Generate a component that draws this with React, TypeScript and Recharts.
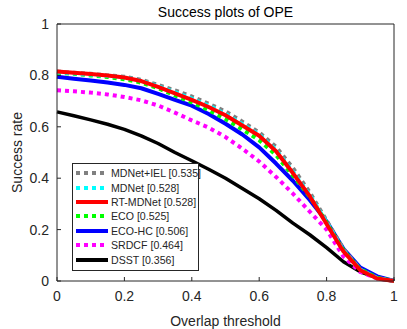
import React from 'react';
import { LineChart, Line, XAxis, YAxis } from 'recharts';

// overlap thresholds 0:0.05:1
const thresholds = [0, 0.05, 0.1, 0.15, 0.2, 0.25, 0.3, 0.35, 0.4, 0.45, 0.5, 0.55, 0.6, 0.65, 0.7, 0.75, 0.8, 0.85, 0.9, 0.95, 1];

const mdnetIel = [0.815, 0.81, 0.806, 0.8, 0.795, 0.783, 0.763, 0.742, 0.718, 0.69, 0.66, 0.62, 0.578, 0.522, 0.44, 0.345, 0.235, 0.125, 0.045, 0.012, 0];
const mdnet = [0.812, 0.808, 0.803, 0.798, 0.792, 0.78, 0.758, 0.735, 0.71, 0.682, 0.65, 0.61, 0.57, 0.51, 0.425, 0.335, 0.228, 0.118, 0.044, 0.011, 0];
const rtMdnet = [0.815, 0.81, 0.805, 0.8, 0.792, 0.778, 0.755, 0.73, 0.705, 0.677, 0.645, 0.605, 0.565, 0.505, 0.42, 0.33, 0.222, 0.115, 0.042, 0.01, 0];
const eco = [0.81, 0.806, 0.8, 0.794, 0.785, 0.772, 0.75, 0.722, 0.695, 0.665, 0.63, 0.59, 0.548, 0.49, 0.41, 0.328, 0.228, 0.12, 0.046, 0.013, 0];
const ecoHc = [0.795, 0.787, 0.78, 0.772, 0.763, 0.75, 0.728, 0.705, 0.682, 0.65, 0.612, 0.57, 0.52, 0.457, 0.39, 0.315, 0.232, 0.125, 0.052, 0.018, 0];
const srdcf = [0.742, 0.738, 0.733, 0.726, 0.716, 0.703, 0.683, 0.655, 0.625, 0.597, 0.56, 0.515, 0.465, 0.405, 0.34, 0.27, 0.2, 0.095, 0.035, 0.01, 0];
const dsst = [0.658, 0.643, 0.627, 0.61, 0.59, 0.565, 0.535, 0.5, 0.468, 0.435, 0.4, 0.36, 0.32, 0.275, 0.225, 0.18, 0.13, 0.075, 0.036, 0.012, 0];

const axisTicks = [0, 0.2, 0.4, 0.6, 0.8, 1];

// legend order (top to bottom)
const series = [
  { key: 'iel', name: 'MDNet+IEL [0.535]', color: '#808080', dotted: true, values: mdnetIel },
  { key: 'mdnet', name: 'MDNet [0.528]', color: '#00ffff', dotted: true, values: mdnet },
  { key: 'rt', name: 'RT-MDNet [0.528]', color: '#ff0000', dotted: false, values: rtMdnet },
  { key: 'eco', name: 'ECO [0.525]', color: '#00ff00', dotted: true, values: eco },
  { key: 'ecohc', name: 'ECO-HC [0.506]', color: '#0000ff', dotted: false, values: ecoHc },
  { key: 'srdcf', name: 'SRDCF [0.464]', color: '#ff00ff', dotted: true, values: srdcf },
  { key: 'dsst', name: 'DSST [0.356]', color: '#000000', dotted: false, values: dsst },
];

// draw order: last one on top
const drawOrder = ['dsst', 'srdcf', 'ecohc', 'eco', 'iel', 'mdnet', 'rt'];

const data = thresholds.map((t, i) => {
  const row: any = { x: t };
  series.forEach(s => { row[s.key] = s.values[i]; });
  return row;
});

const FONT = '"Liberation Sans", Arial, Helvetica, sans-serif';
const INK = '#262626';

function LegendBox() {
  return (
    <div
      style={{
        position: 'absolute',
        left: 72,
        top: 163,
        width: 127,
        border: '1px solid #262626',
        background: '#fff',
        padding: '2px 0 3px 0',
        textAlign: 'left',
        boxSizing: 'border-box',
      }}
    >
      {series.map(s => (
        <div key={s.key} style={{ display: 'flex', alignItems: 'center', height: 14.4 }}>
          <svg width={34} height={8} style={{ marginLeft: 2, flex: 'none' }}>
            <line
              x1={1}
              y1={4}
              x2={33}
              y2={4}
              stroke={s.color}
              strokeWidth={4}
              strokeDasharray={s.dotted ? '4 4' : undefined}
            />
          </svg>
          <span style={{ fontFamily: FONT, fontSize: 10.6, color: INK, marginLeft: 2, whiteSpace: 'nowrap' }}>{s.name}</span>
        </div>
      ))}
    </div>
  );
}

export default function App() {
  const byKey: any = {};
  series.forEach(s => { byKey[s.key] = s; });

  return (
    <div style={{ position: 'absolute', left: 0, top: 0, width: 407, height: 329, background: '#fff' }}>
      <div
        style={{
          position: 'absolute',
          left: 57,
          width: 337,
          top: 4,
          textAlign: 'center',
          fontFamily: FONT,
          fontSize: 14,
          color: '#000',
        }}
      >
        Success plots of OPE
      </div>
      <LineChart width={407} height={329} data={data} margin={{ top: 24, right: 13, bottom: 0, left: 0 }}>
        <XAxis
          xAxisId="b"
          dataKey="x"
          type="number"
          domain={[0, 1]}
          ticks={axisTicks}
          height={48}
          tickSize={-4}
          tickMargin={14}
          stroke={INK}
          tick={{ fill: INK, fontSize: 14, fontFamily: FONT }}
          label={{
            value: 'Overlap threshold',
            position: 'insideBottom',
            offset: 3,
            fill: INK,
            fontSize: 14,
            fontFamily: FONT,
          }}
        />
        <XAxis
          xAxisId="t"
          orientation="top"
          type="number"
          domain={[0, 1]}
          ticks={axisTicks}
          mirror
          height={10}
          tickSize={4}
          tick={false}
          stroke={INK}
        />
        <YAxis
          yAxisId="l"
          type="number"
          domain={[0, 1]}
          ticks={axisTicks}
          width={57}
          tickSize={-4}
          tickMargin={12}
          stroke={INK}
          tick={{ fill: INK, fontSize: 14, fontFamily: FONT }}
          label={{
            value: 'Success rate',
            angle: -90,
            position: 'insideLeft',
            offset: 17,
            fill: INK,
            fontSize: 14,
            fontFamily: FONT,
            style: { textAnchor: 'middle' },
          }}
        />
        <YAxis
          yAxisId="r"
          orientation="right"
          type="number"
          domain={[0, 1]}
          ticks={axisTicks}
          mirror
          width={10}
          tickSize={4}
          tick={false}
          stroke={INK}
        />
        {drawOrder.map(k => {
          const s = byKey[k];
          return (
            <Line
              key={k}
              xAxisId="b"
              yAxisId="l"
              type="linear"
              dataKey={k}
              name={s.name}
              stroke={s.color}
              strokeWidth={s.key === 'dsst' ? 3.5 : 4}
              strokeDasharray={s.dotted ? '4 4' : undefined}
              strokeLinejoin="round"
              dot={false}
              activeDot={false}
              isAnimationActive={false}
            />
          );
        })}
      </LineChart>
      <LegendBox />
    </div>
  );
}
